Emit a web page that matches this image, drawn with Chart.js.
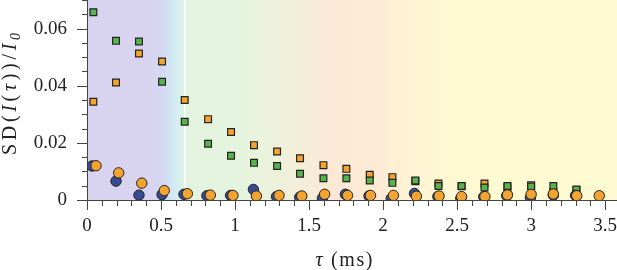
<!DOCTYPE html>
<html>
<head>
<meta charset="utf-8">
<script src="https://cdn.jsdelivr.net/npm/chart.js@4.4.0/dist/chart.umd.min.js"></script>
<style>
  html, body { margin: 0; padding: 0; background: #fff; }
  canvas { display: block; }
</style>
</head>
<body>
<canvas id="chart" width="617" height="270"></canvas>
<script>
// lag times (ms)
const tauSquares = [0.043, 0.196, 0.351, 0.507, 0.660, 0.818, 0.973, 1.128, 1.284, 1.439, 1.597,
  1.752, 1.910, 2.063, 2.218, 2.374, 2.530, 2.685, 2.840, 3.000, 3.150, 3.306];
const tauBlue = [0.034, 0.196, 0.351, 0.507, 0.655, 0.810, 0.970, 1.124, 1.280, 1.437, 1.590,
  1.745, 1.905, 2.055, 2.212, 2.370, 2.525, 2.680, 2.835, 2.995, 3.150, 3.300];
const tauOrange = [0.061, 0.214, 0.370, 0.522, 0.678, 0.833, 0.986, 1.144, 1.297, 1.451, 1.605,
  1.760, 1.915, 2.070, 2.225, 2.378, 2.530, 2.688, 2.840, 3.000, 3.150, 3.308, 3.460];

// SD(I(tau))/I0
const greenSquares = [0.0657, 0.0557, 0.0555, 0.0414, 0.0274, 0.0197, 0.0155, 0.0130, 0.0119, 0.0092, 0.0076,
  0.0076, 0.0068, 0.0060, 0.0068, 0.0049, 0.0049, 0.0044, 0.0049, 0.0047, 0.0049, 0.0037];
const orangeSquares = [0.0344, 0.0411, 0.0513, 0.0485, 0.0350, 0.0283, 0.0238, 0.0192, 0.0170, 0.0146, 0.0122,
  0.0109, 0.0088, 0.0080, 0.0066, 0.0058, 0.0048, 0.0058, 0.0045, 0.0052, 0.0028, 0.0035];
const blueCircles = [0.0119, 0.0066, 0.0017, 0.0019, 0.0020, 0.0015, 0.0016, 0.0037, 0.0012, 0.0010, 0.0006,
  0.0020, 0.0014, 0.0005, 0.0023, 0.0012, 0.0006, 0.0011, 0.0015, 0.0008, 0.0017, 0.0016];
const orangeCircles = [0.0120, 0.0095, 0.0059, 0.0033, 0.0022, 0.0017, 0.0016, 0.0014, 0.0016, 0.0014, 0.0020,
  0.0016, 0.0016, 0.0016, 0.0013, 0.0014, 0.0012, 0.0012, 0.0018, 0.0020, 0.0021, 0.0015, 0.0015];

const serif = "'Liberation Serif', 'Times New Roman', serif";

const pts = (xs, ys) => ys.map((v, i) => ({ x: xs[i], y: v }));
const isMult = (v, step) => Math.abs(v / step - Math.round(v / step)) < 1e-6;

// background colour bands along tau
const bandStops = [
  [0, '#d8d3ef'], [0.42, '#d8d3ef'], [0.52, '#d4d9f3'], [0.59, '#d3ebf3'], [0.645, '#dbf3ea'],
  [0.67, '#e3f3df'], [1.05, '#e5f4de'], [1.35, '#f0f0da'], [1.65, '#fbe9d6'], [1.95, '#fdebd5'],
  [2.35, '#fef7d3'], [2.7, '#fefad2'], [3.58, '#fefad2']
];

function drawRich(ctx, segs, cx, baseline, target) {
  const chars = [];
  segs.forEach(s => { for (const ch of s.t) chars.push({ ch, font: s.font, dy: s.dy || 0 }); });
  let total = 0;
  chars.forEach(c => { ctx.font = c.font; c.w = ctx.measureText(c.ch).width; total += c.w; });
  const gap = Math.max(0, (target - total) / (chars.length - 1));
  let x = cx - (total + gap * (chars.length - 1)) / 2;
  ctx.textBaseline = 'alphabetic';
  ctx.textAlign = 'left';
  chars.forEach(c => { ctx.font = c.font; ctx.fillText(c.ch, x, baseline + c.dy); x += c.w + gap; });
}

const decor = {
  id: 'decor',
  beforeDraw(chart) {
    const { ctx, chartArea: a, scales: { x } } = chart;
    ctx.save();
    ctx.fillStyle = '#fff';
    ctx.fillRect(0, 0, chart.width, chart.height);
    const g = ctx.createLinearGradient(a.left, 0, a.right, 0);
    bandStops.forEach(([t, c]) => {
      const f = (x.getPixelForValue(t) - a.left) / (a.right - a.left);
      g.addColorStop(Math.min(1, Math.max(0, f)), c);
    });
    ctx.fillStyle = g;
    ctx.fillRect(a.left, a.top, a.right - a.left, a.bottom - a.top);
    ctx.fillStyle = '#ffffff';
    ctx.fillRect(Math.round(x.getPixelForValue(0.655)), a.top, 1.5, a.bottom - a.top);
    ctx.restore();
  },
  afterDraw(chart) {
    const { ctx, chartArea: a, scales: { x, y } } = chart;
    ctx.save();
    ctx.strokeStyle = '#444';
    ctx.lineWidth = 1;
    ctx.beginPath();
    x.ticks.forEach(t => {
      if (!isMult(t.value, 0.1)) return;
      const px = Math.round(x.getPixelForValue(t.value)) + 0.5;
      ctx.moveTo(px, a.bottom);
      ctx.lineTo(px, a.bottom + (isMult(t.value, 0.5) ? 10 : 6));
    });
    y.ticks.forEach(t => {
      if (!isMult(t.value, 0.005)) return;
      const py = Math.round(y.getPixelForValue(t.value)) + 0.5;
      ctx.moveTo(a.left, py);
      ctx.lineTo(a.left - (isMult(t.value, 0.02) ? 10 : 5), py);
    });
    ctx.stroke();

    ctx.fillStyle = '#222';
    const rm = '20px ' + serif, it = 'italic 20px ' + serif, sub = 'italic 14px ' + serif;
    drawRich(ctx, [{ t: 'τ', font: it }, { t: ' (ms)', font: rm }], 344, 266, 57);
    ctx.translate(16, 94);
    ctx.rotate(-Math.PI / 2);
    drawRich(ctx, [
      { t: 'SD(', font: rm }, { t: 'I', font: it }, { t: '(', font: rm }, { t: 'τ', font: it },
      { t: '))/', font: rm }, { t: 'I', font: it }, { t: '0', font: sub, dy: 4 }
    ], 0, 0, 122);
    ctx.restore();
  }
};

const edge = '#222';
new Chart(document.getElementById('chart'), {
  type: 'scatter',
  data: {
    datasets: [
      { data: pts(tauOrange, orangeCircles), pointStyle: 'circle', pointRadius: 5.2,
        backgroundColor: '#f4a42e', borderColor: edge, borderWidth: 1 },
      { data: pts(tauBlue, blueCircles), pointStyle: 'circle', pointRadius: 5.2,
        backgroundColor: '#364a96', borderColor: edge, borderWidth: 1 },
      { data: pts(tauSquares, greenSquares), pointStyle: 'rect', pointRadius: 4.8,
        backgroundColor: '#58b34c', borderColor: edge, borderWidth: 1.2 },
      { data: pts(tauSquares, orangeSquares), pointStyle: 'rect', pointRadius: 4.8,
        backgroundColor: '#f4a42e', borderColor: edge, borderWidth: 1.2 }
    ]
  },
  options: {
    responsive: false,
    animation: false,
    layout: { padding: 0, autoPadding: false },
    plugins: { legend: { display: false }, tooltip: { enabled: false } },
    scales: {
      x: {
        type: 'linear', min: 0, max: 3.58,
        ticks: {
          stepSize: 0.1, autoSkip: false, includeBounds: false, maxRotation: 0, padding: 5, color: '#222',
          font: { family: serif, size: 19 },
          callback: v => isMult(v, 0.5) ? String(Math.round(v * 10) / 10) : ''
        },
        grid: { drawOnChartArea: false, drawTicks: true, tickLength: 10, color: 'rgba(0,0,0,0)' },
        border: { display: true, color: '#444', width: 1 },
        afterFit: s => { s.height = 70; s.paddingLeft = 0; s.paddingRight = 0; }
      },
      y: {
        type: 'linear', min: 0, max: 0.07,
        ticks: {
          stepSize: 0.005, autoSkip: false, padding: 10, color: '#222',
          font: { family: serif, size: 19 },
          callback: v => isMult(v, 0.02) ? (Math.abs(v) < 1e-9 ? '0' : v.toFixed(2)) : ''
        },
        grid: { drawOnChartArea: false, drawTicks: true, tickLength: 10, color: 'rgba(0,0,0,0)' },
        border: { display: true, color: '#444', width: 1 },
        afterFit: s => { s.width = 87; s.paddingTop = 0; s.paddingBottom = 0; }
      }
    }
  },
  plugins: [decor]
});
</script>
</body>
</html>
